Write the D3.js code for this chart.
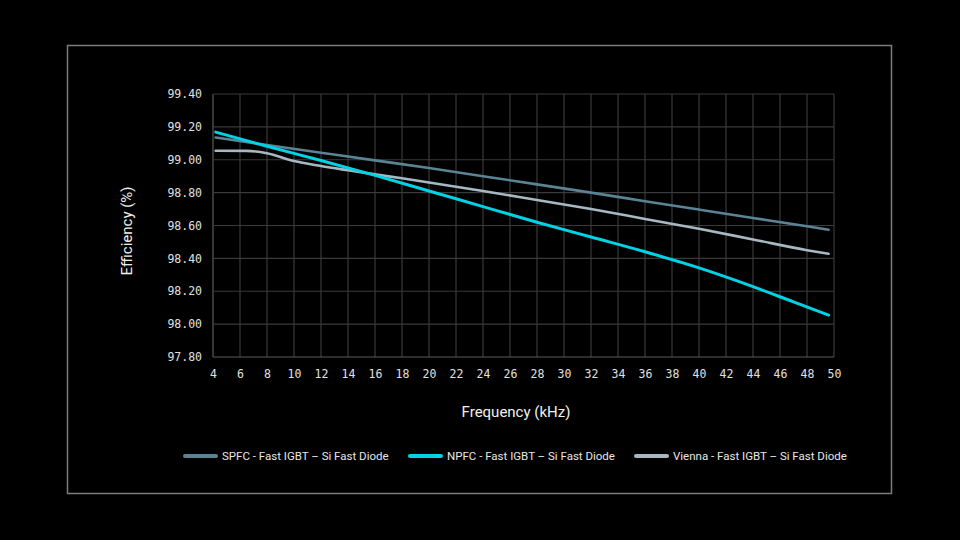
<!DOCTYPE html>
<html>
<head>
<meta charset="utf-8">
<script src="https://cdn.jsdelivr.net/npm/d3@7"></script>
<style>
  html, body { margin: 0; padding: 0; background: #000; }
  svg { display: block; }
</style>
</head>
<body>
<div id="chart"></div>
<script>
const seriesNames = [
    "SPFC - Fast IGBT \u2013 Si Fast Diode",
    "NPFC - Fast IGBT \u2013 Si Fast Diode",
    "Vienna - Fast IGBT \u2013 Si Fast Diode"
];
const seriesColors = ["#5a8496", "#00d2e6", "#a6b9c3"];

const spfcFreq = [4.2, 8, 12, 16, 20, 24, 28, 32, 36, 40, 44, 48, 49.6];
const spfcEff = [99.135, 99.09, 99.043, 98.996, 98.95, 98.90, 98.85, 98.80, 98.748, 98.697, 98.646, 98.595, 98.574];

const npfcFreq = [4.2, 8, 12, 16, 20, 24, 28, 32, 36, 40, 44, 47, 49.6];
const npfcEff = [99.168, 99.082, 98.995, 98.905, 98.81, 98.715, 98.62, 98.53, 98.44, 98.342, 98.228, 98.135, 98.055];

const viennaFreq = [4.2, 6.5, 8, 10, 12, 14, 16, 18, 20, 24, 28, 32, 36, 40, 44, 48, 49.6];
const viennaEff = [99.055, 99.054, 99.04, 98.992, 98.962, 98.936, 98.911, 98.887, 98.862, 98.81, 98.755, 98.70, 98.64, 98.58, 98.515, 98.45, 98.428];

const xTicks = d3.range(4, 51, 2);
const yTicks = [97.8, 98.0, 98.2, 98.4, 98.6, 98.8, 99.0, 99.2, 99.4];

const width = 960;
const height = 540;
const plot = { left: 213, right: 834, top: 94, bottom: 357 };

const svg = d3.select("#chart")
    .append("svg")
    .attr("width", width)
    .attr("height", height);

svg.append("rect")
    .attr("width", width)
    .attr("height", height)
    .attr("fill", "#000");

// outer frame
svg.append("rect")
    .attr("x", 67.5)
    .attr("y", 45.5)
    .attr("width", 824)
    .attr("height", 448)
    .attr("fill", "none")
    .attr("stroke", "#7c7c7c")
    .attr("stroke-width", 1.5);

const xScale = d3.scaleLinear()
    .domain([4, 50])
    .range([plot.left, plot.right]);

const yScale = d3.scaleLinear()
    .domain([97.8, 99.4])
    .range([plot.bottom, plot.top]);

// grid
const grid = svg.append("g").attr("class", "grid");
grid.selectAll(".vline")
    .data(xTicks)
    .join("line")
    .attr("x1", d => xScale(d))
    .attr("x2", d => xScale(d))
    .attr("y1", plot.top)
    .attr("y2", plot.bottom)
    .attr("stroke", d => d === 4 ? "#5a5a5a" : "#3a3a3a")
    .attr("stroke-width", 1.2);

grid.selectAll(".hline")
    .data(yTicks)
    .join("line")
    .attr("x1", plot.left)
    .attr("x2", plot.right)
    .attr("y1", d => yScale(d))
    .attr("y2", d => yScale(d))
    .attr("stroke", d => d === 97.8 ? "#5a5a5a" : "#3a3a3a")
    .attr("stroke-width", 1.2);

// axes (labels only, lines drawn by the grid)
const xAxis = d3.axisBottom(xScale)
    .tickValues(xTicks)
    .tickSize(0)
    .tickPadding(13)
    .tickFormat(d3.format("d"));

const yAxis = d3.axisLeft(yScale)
    .tickValues(yTicks)
    .tickSize(0)
    .tickPadding(11)
    .tickFormat(d => d.toFixed(2));

const gx = svg.append("g")
    .attr("transform", `translate(0, ${plot.bottom})`)
    .call(xAxis);

const gy = svg.append("g")
    .attr("transform", `translate(${plot.left}, 0)`)
    .call(yAxis);

[gx, gy].forEach(g => {
    g.select(".domain").remove();
    g.selectAll("text")
        .attr("fill", "#e0e0e0")
        .style("font-family", "'DejaVu Sans Mono', monospace")
        .style("font-size", "11.5px");
});

// axis titles
svg.append("text")
    .attr("x", 516)
    .attr("y", 417)
    .attr("text-anchor", "middle")
    .attr("fill", "#f0f0f0")
    .style("font-family", "Roboto, sans-serif")
    .style("font-size", "15px")
    .text("Frequency (kHz)");

svg.append("text")
    .attr("transform", "translate(132, 231) rotate(-90)")
    .attr("text-anchor", "middle")
    .attr("fill", "#f0f0f0")
    .style("font-family", "Roboto, sans-serif")
    .style("font-size", "15px")
    .text("Efficiency (%)");

// lines
const line = d3.line()
    .x(d => xScale(d.f))
    .y(d => yScale(d.e))
    .curve(d3.curveMonotoneX);

const series = [
    spfcFreq.map((f, i) => ({ f, e: spfcEff[i] })),
    npfcFreq.map((f, i) => ({ f, e: npfcEff[i] })),
    viennaFreq.map((f, i) => ({ f, e: viennaEff[i] }))
];

const drawOrder = [0, 2, 1];
drawOrder.forEach(i => {
    svg.append("path")
        .datum(series[i])
        .attr("fill", "none")
        .attr("stroke", seriesColors[i])
        .attr("stroke-width", i === 1 ? 3 : 2.6)
        .attr("stroke-linecap", "round")
        .attr("d", line);
});

// legend
const legendX = [183, 408, 634];
const legend = svg.append("g");
seriesNames.forEach((name, i) => {
    const g = legend.append("g").attr("transform", `translate(${legendX[i]}, 456)`);
    g.append("line")
        .attr("x1", 2).attr("x2", 33)
        .attr("y1", 0).attr("y2", 0)
        .attr("stroke", seriesColors[i])
        .attr("stroke-width", 4)
        .attr("stroke-linecap", "round");
    g.append("text")
        .attr("x", 39)
        .attr("y", 4)
        .attr("fill", "#e6e6e6")
        .style("font-family", "Roboto, sans-serif")
        .style("font-size", "11.5px")
        .text(name);
});
</script>
</body>
</html>
